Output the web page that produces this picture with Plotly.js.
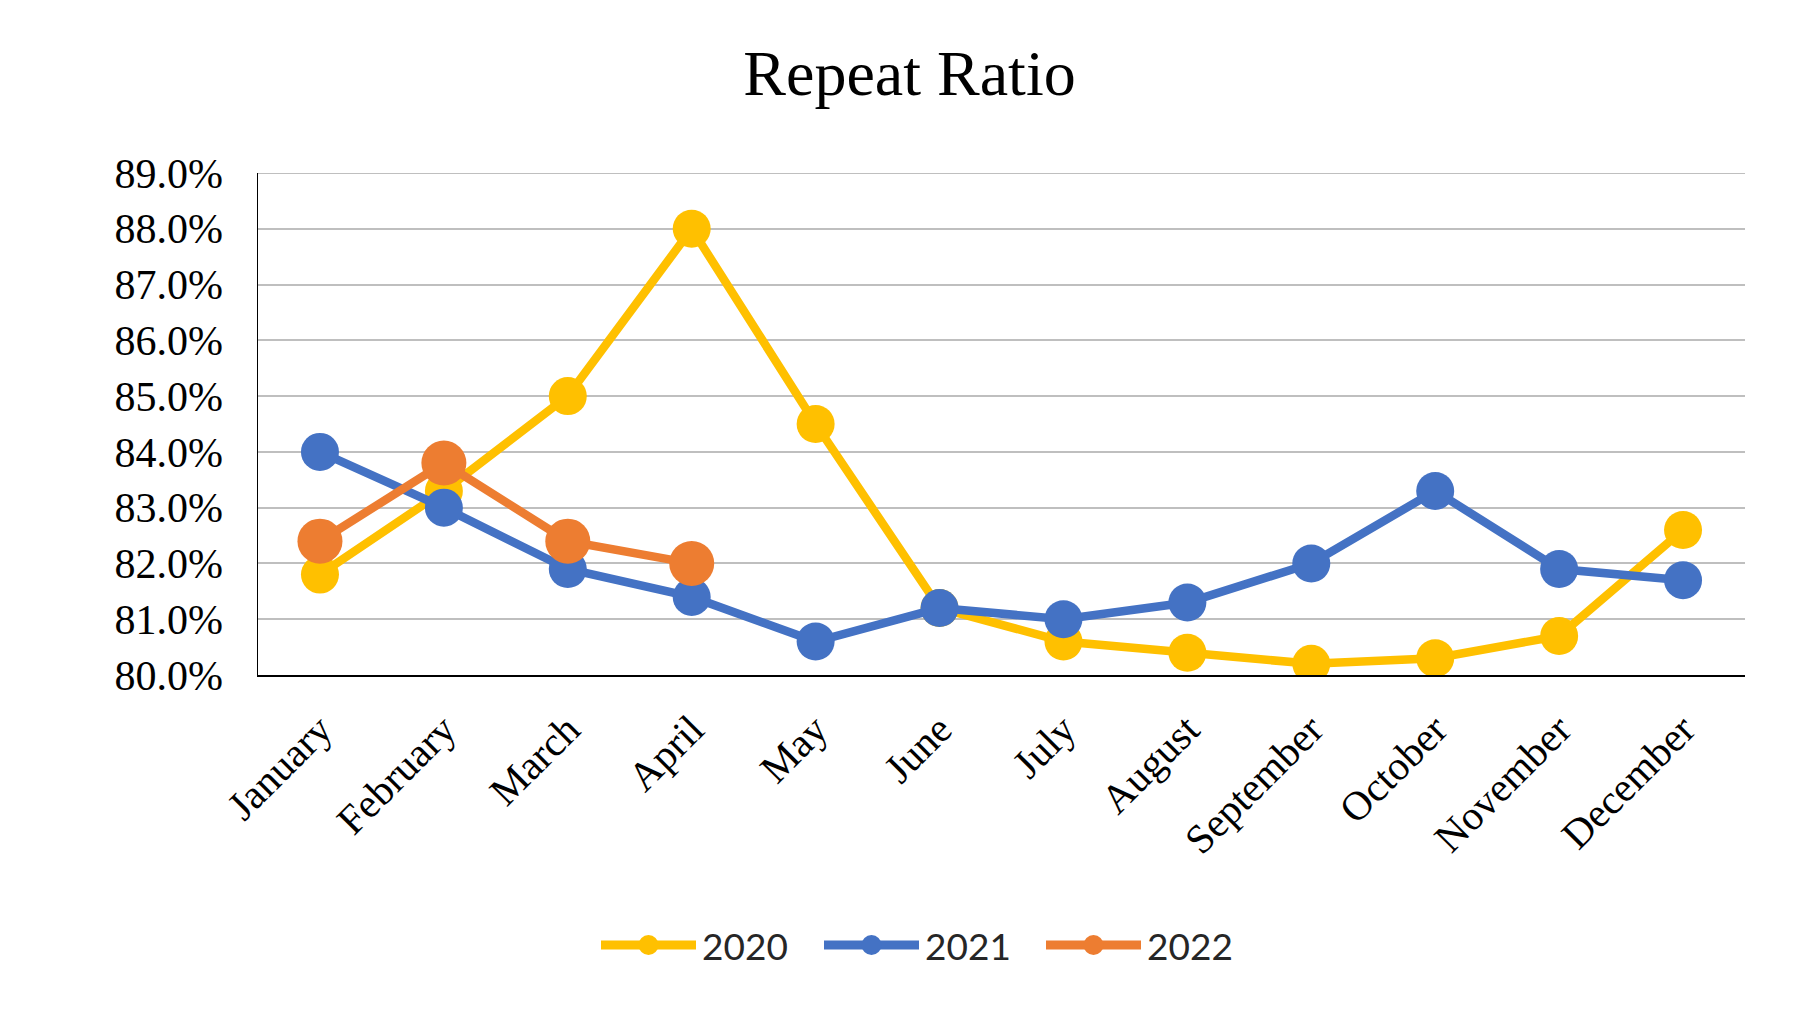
<!DOCTYPE html>
<html>
<head>
<meta charset="utf-8">
<script src="https://cdn.plot.ly/plotly-3.0.1.min.js"></script>
<style>html,body{margin:0;padding:0;background:#fff;}#chart{width:1819px;height:1013px;}</style>
</head>
<body>
<div id="chart"></div>
<script>
const months = ["January","February","March","April","May","June","July","August","September","October","November","December"];
const seriesNames = ["2020","2021","2022"];
const values2020 = [0.818,0.833,0.850,0.880,0.845,0.812,0.806,0.804,0.802,0.803,0.807,0.826];
const values2021 = [0.840,0.830,0.819,0.814,0.806,0.812,0.810,0.813,0.820,0.833,0.819,0.817];
const values2022 = [0.824,0.838,0.824,0.820];
const colors = ["#FFC000","#4472C4","#ED7D31"];
const yMin = 0.80, yMax = 0.89;

const W = 1819, H = 1013;
const margin = {l:258, r:74, t:173, b:338};
const plotW = W - margin.l - margin.r, plotH = H - margin.t - margin.b;
const px2x = p => (p - margin.l) / plotW;
const px2y = p => (H - margin.b - p) / plotH;

function trace(name, vals, color, msize){
  return {
    type:'scatter', mode:'lines+markers', name:name,
    x: months.slice(0, vals.length), y: vals,
    line:{color:color, width:8.5},
    marker:{color:color, size:msize},
    hoverinfo:'skip', showlegend:false
  };
}
const data = [
  trace(seriesNames[0], values2020, colors[0], 38),
  trace(seriesNames[1], values2021, colors[1], 38),
  trace(seriesNames[2], values2022, colors[2], 45)
];

// top gridline (at the edge of the range)
const shapes = [{type:'line', xref:'paper', yref:'y', x0:0, x1:1, y0:yMax, y1:yMax,
  line:{color:'#BFBFBF', width:2}, layer:'below'}];
const annotations = [];
// custom legend (long line symbols as in the reference)
const legendY = 945, lineLen = 95, itemStart = [601, 824, 1046];
seriesNames.forEach((n, i) => {
  const x0 = itemStart[i], x1 = x0 + lineLen, cx = (x0 + x1) / 2;
  shapes.push({type:'line', xref:'paper', yref:'paper', x0:px2x(x0), x1:px2x(x1), y0:px2y(legendY), y1:px2y(legendY),
    line:{color:colors[i], width:9}});
  shapes.push({type:'circle', xref:'paper', yref:'paper', xsizemode:'pixel', ysizemode:'pixel',
    xanchor:px2x(cx), yanchor:px2y(legendY), x0:-10, x1:10, y0:-10, y1:10,
    fillcolor:colors[i], line:{width:0}});
  annotations.push({xref:'paper', yref:'paper', x:px2x(x1 + 4), y:px2y(legendY), xanchor:'left', yanchor:'middle',
    text:n, showarrow:false, font:{family:'Lato, "Open Sans", sans-serif', size:37, color:'#262626'}});
});

const layout = {
  width:W, height:H, margin:margin,
  paper_bgcolor:'#fff', plot_bgcolor:'#fff',
  title:{text:'Repeat Ratio', xref:'container', x:0.5, xanchor:'center', yref:'container', y:1 - 73/H, yanchor:'middle',
    font:{family:'"Liberation Serif", "Times New Roman", serif', size:64, color:'#000'}},
  xaxis:{type:'category', range:[-0.5, 11.5], showgrid:false, zeroline:false,
    showline:true, linecolor:'#000', linewidth:2, ticks:'', tickangle:-45, ticklabelstandoff:12,
    tickfont:{family:'"Liberation Serif", "Times New Roman", serif', size:41, color:'#000'}},
  yaxis:{range:[yMin, yMax], dtick:0.01, tick0:yMin, tickformat:'.1%',
    showgrid:true, gridcolor:'#BFBFBF', gridwidth:2, zeroline:false,
    showline:true, linecolor:'#000', linewidth:1.5, ticks:'', ticklabelstandoff:25,
    tickfont:{family:'"Liberation Serif", "Times New Roman", serif', size:42, color:'#000'}},
  showlegend:false, shapes:shapes, annotations:annotations
};
Plotly.newPlot('chart', data, layout, {displayModeBar:false, staticPlot:true});
</script>
</body>
</html>
